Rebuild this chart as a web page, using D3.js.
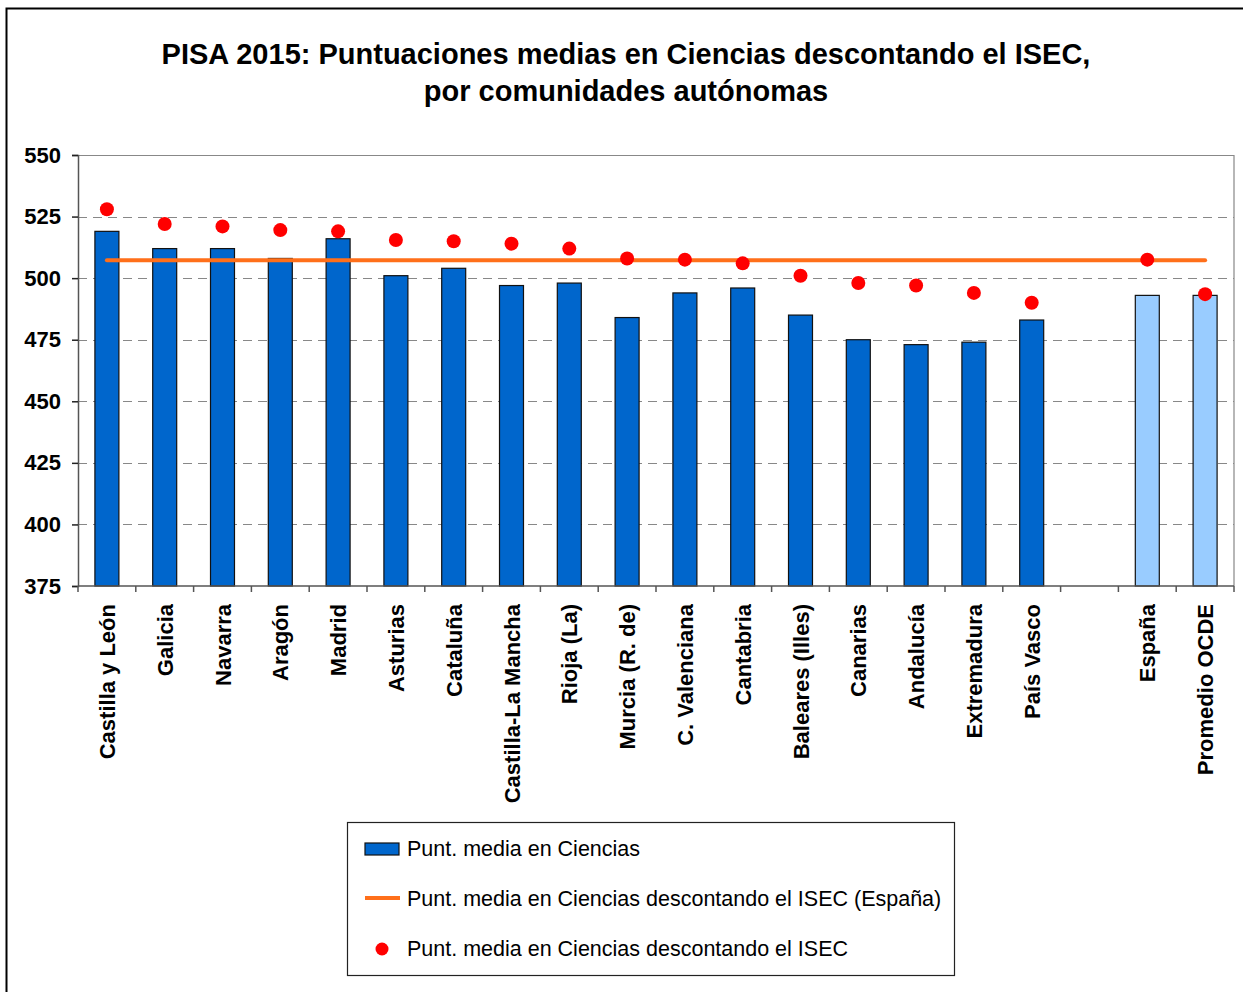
<!DOCTYPE html>
<html>
<head>
<meta charset="utf-8">
<script src="https://d3js.org/d3.v7.min.js"></script>
<style>
  body { margin: 0; background: #fff; }
  text { font-family: "Liberation Sans", Arial, sans-serif; }
</style>
</head>
<body>
<div id="graph1"></div>
<script>
//chart data
let categories = ["Castilla y León", "Galicia", "Navarra", "Aragón", "Madrid", "Asturias", "Cataluña",
    "Castilla-La Mancha", "Rioja (La)", "Murcia (R. de)", "C. Valenciana", "Cantabria", "Baleares (Illes)",
    "Canarias", "Andalucía", "Extremadura", "País Vasco", "", "España", "Promedio OCDE"];
let scores = [519, 512, 512, 508, 516, 501, 504, 497, 498, 484, 494, 496, 485, 475, 473, 474, 483, null, 493, 493];
let isecScores = [528, 522, 521, 519.5, 519, 515.5, 515, 514, 512, 508, 507.5, 506, 501, 498, 497, 494, 490, null, 507.5, 493.5];
let spainLine = 507.3;
let yTicks = [375, 400, 425, 450, 475, 500, 525, 550];

let width = 1243, height = 992;
let margin = {left: 78, right: 9, top: 155, bottom: 406};

let svg = d3.select("#graph1")
    .append("svg")
    .attr("width", width)
    .attr("height", height);

//outer frame
svg.append("rect")
    .attr("x", 6.5).attr("y", 8.5)
    .attr("width", 1260).attr("height", 1000)
    .attr("fill", "none").attr("stroke", "#000").attr("stroke-width", 2);

//title
svg.append("text")
    .attr("x", 626).attr("y", 64)
    .style("text-anchor", "middle").style("font-size", "29px").style("font-weight", "bold")
    .text("PISA 2015: Puntuaciones medias en Ciencias descontando el ISEC,");
svg.append("text")
    .attr("x", 626).attr("y", 101)
    .style("text-anchor", "middle").style("font-size", "29px").style("font-weight", "bold")
    .text("por comunidades autónomas");

let plotW = width - margin.left - margin.right;
let plotH = height - margin.top - margin.bottom;
let g = svg.append("g").attr("transform", `translate(${margin.left},${margin.top})`);

//x domain (use index so the empty slot stays unique)
let x = d3.scaleBand()
    .domain(categories.map((d, i) => i))
    .range([0, plotW])
    .paddingInner(0.585)
    .paddingOuter(0.2925);

let slot = d3.scaleBand().domain(categories.map((d, i) => i)).range([0, plotW]);

//y domain
let y = d3.scaleLinear().domain([375, 550]).range([plotH, 0]);

//grid lines
g.append("g").selectAll("line")
    .data(yTicks.filter(d => d > 375 && d < 550))
    .enter().append("line")
    .attr("x1", 0).attr("x2", plotW)
    .attr("y1", d => Math.round(y(d)) + 0.5).attr("y2", d => Math.round(y(d)) + 0.5)
    .attr("stroke", "#888").attr("stroke-width", 1.2).attr("stroke-dasharray", "9,6");

//top and right border of plot
g.append("path")
    .attr("d", `M0,0.5H${plotW}V${plotH}`)
    .attr("fill", "none").attr("stroke", "#888").attr("stroke-width", 1.2);

//bars
let bars = g.selectAll("rect.bar").data(scores.map((v, i) => ({v: v, i: i})).filter(d => d.v !== null));
bars.enter()
    .append("rect")
    .attr("class", "bar")
    .attr("fill", d => d.i >= 18 ? "#99CCFF" : "#0066CC")
    .attr("stroke", "#111").attr("stroke-width", 1.2)
    .attr("x", d => x(d.i))
    .attr("y", d => y(d.v))
    .attr("width", x.bandwidth())
    .attr("height", d => plotH - y(d.v));

//Spain ISEC line
g.append("line")
    .attr("x1", x(0) + x.bandwidth() / 2).attr("x2", x(19) + x.bandwidth() / 2)
    .attr("y1", y(spainLine)).attr("y2", y(spainLine))
    .attr("stroke", "#FF6F1A").attr("stroke-width", 4).attr("stroke-linecap", "round");

//ISEC dots
g.append("g").selectAll("circle")
    .data(isecScores.map((v, i) => ({v: v, i: i})).filter(d => d.v !== null))
    .enter().append("circle")
    .attr("cx", d => x(d.i) + x.bandwidth() / 2)
    .attr("cy", d => y(d.v))
    .attr("r", 7)
    .attr("fill", "#FF0000");

//y axis
let yAxis = g.append("g")
    .call(d3.axisLeft(y).tickValues(yTicks).tickSize(6).tickPadding(11).tickFormat(d3.format("d")));
yAxis.select(".domain").attr("stroke", "#555").attr("stroke-width", 1.5);
yAxis.selectAll(".tick line").attr("stroke", "#222").attr("stroke-width", 1.5);
yAxis.selectAll("text").style("font-size", "22px").style("font-weight", "bold")
    .attr("fill", "#000").attr("font-family", null);

//x axis ticks at slot boundaries
g.append("line")
    .attr("x1", 0).attr("x2", plotW).attr("y1", plotH).attr("y2", plotH)
    .attr("stroke", "#555").attr("stroke-width", 1.5);
g.append("g").selectAll("line")
    .data(d3.range(21))
    .enter().append("line")
    .attr("x1", d => d * slot.step()).attr("x2", d => d * slot.step())
    .attr("y1", plotH).attr("y2", plotH + 6)
    .attr("stroke", "#555").attr("stroke-width", 1.5);

//x labels (rotated)
g.append("g").selectAll("text")
    .data(categories.map((c, i) => ({c: c, i: i})).filter(d => d.c !== ""))
    .enter().append("text")
    .attr("transform", d => `translate(${x(d.i) + x.bandwidth() / 2 + 8},${plotH + 18}) rotate(-90)`)
    .style("text-anchor", "end")
    .style("font-size", "22px").style("font-weight", "bold")
    .text(d => d.c);

//legend
let legend = svg.append("g").attr("transform", "translate(347,822)");
legend.append("rect")
    .attr("x", 0.5).attr("y", 0.5).attr("width", 607).attr("height", 153)
    .attr("fill", "#fff").attr("stroke", "#222").attr("stroke-width", 1.2);
legend.append("rect")
    .attr("x", 18).attr("y", 21).attr("width", 34).attr("height", 12)
    .attr("fill", "#0066CC").attr("stroke", "#111").attr("stroke-width", 1.2);
legend.append("line")
    .attr("x1", 18).attr("x2", 53).attr("y1", 76).attr("y2", 76)
    .attr("stroke", "#FF6F1A").attr("stroke-width", 4);
legend.append("circle")
    .attr("cx", 35).attr("cy", 127).attr("r", 6.5).attr("fill", "#FF0000");
let legendItems = ["Punt. media en Ciencias",
    "Punt. media en Ciencias descontando el ISEC (España)",
    "Punt. media en Ciencias descontando el ISEC"];
legend.selectAll("text.leg").data(legendItems)
    .enter().append("text")
    .attr("class", "leg")
    .attr("x", 60).attr("y", (d, i) => 34 + i * 50)
    .style("font-size", "21.5px")
    .text(d => d);
</script>
</body>
</html>
